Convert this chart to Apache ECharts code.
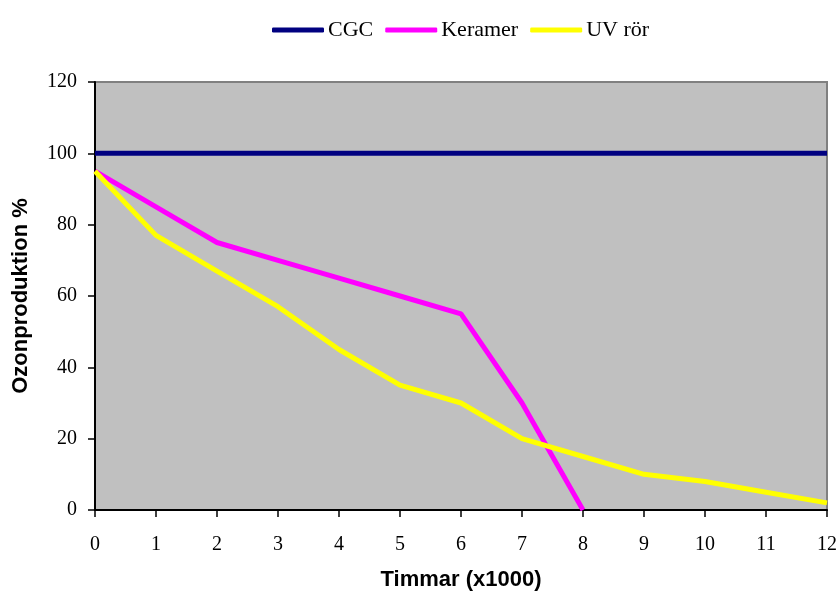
<!DOCTYPE html>
<html>
<head>
<meta charset="utf-8">
<script src="https://cdn.jsdelivr.net/npm/echarts@6/dist/echarts.min.js"></script>
<style>html,body{margin:0;padding:0;background:#fff}#c{width:840px;height:596px}</style>
</head>
<body>
<div id="c"></div>
<script>
const hours = [0,1,2,3,4,5,6,7,8,9,10,11,12];
const cgc = [100,100,100,100,100,100,100,100,100,100,100,100,100];
const keramer = [95,85,75,70,65,60,55,30,0];
const uvRor = [95,77,67,57,45,35,30,20,15,10,8,5,2];
const seriesNames = ['CGC','Keramer','UV rör'];

function pairs(vals){ return vals.map((v,i)=>[hours[i], v]); }

const chart = echarts.init(document.getElementById('c'));
const serif = 'Liberation Serif, Times New Roman, serif';
const sans = 'Liberation Sans, Arial, sans-serif';
chart.setOption({
  animation:false,
  backgroundColor:'#ffffff',
  legend:{
    left:267, top:14, itemWidth:52, itemHeight:5, itemGap:12, icon:'roundRect',
    textStyle:{fontFamily:serif, fontSize:22, color:'#000', padding:[0,0,0,-1]},
    data:seriesNames
  },
  grid:{left:95, top:82, right:12, bottom:84, show:true, backgroundColor:'#c0c0c0', borderColor:'#808080', borderWidth:2},
  xAxis:{
    type:'value', min:0, max:12, interval:1,
    name:'Timmar (x1000)', nameLocation:'middle', nameGap:59,
    nameTextStyle:{fontFamily:sans, fontWeight:'bold', fontSize:22, color:'#000'},
    axisLine:{show:true, lineStyle:{color:'#000', width:2}},
    axisTick:{show:true, length:7, lineStyle:{color:'#000', width:1.5}},
    axisLabel:{margin:25, fontFamily:serif, fontSize:20, color:'#000'},
    splitLine:{show:false}
  },
  yAxis:{
    type:'value', min:0, max:120, interval:20,
    name:'Ozonproduktion %', nameLocation:'middle', nameGap:63, nameRotate:90,
    nameTextStyle:{fontFamily:sans, fontWeight:'bold', fontSize:22, color:'#000'},
    axisLine:{show:true, lineStyle:{color:'#000', width:2}},
    axisTick:{show:true, length:7, lineStyle:{color:'#000', width:1.5}},
    axisLabel:{margin:18, fontFamily:serif, fontSize:20, color:'#000'},
    splitLine:{show:false}
  },
  series:[
    {name:seriesNames[0], type:'line', data:pairs(cgc), symbol:'none', lineStyle:{color:'#000080', width:5}, itemStyle:{color:'#000080'}},
    {name:seriesNames[1], type:'line', data:pairs(keramer), symbol:'none', lineStyle:{color:'#ff00ff', width:5}, itemStyle:{color:'#ff00ff'}},
    {name:seriesNames[2], type:'line', data:pairs(uvRor), symbol:'none', lineStyle:{color:'#ffff00', width:5}, itemStyle:{color:'#ffff00'}}
  ]
});
</script>
</body>
</html>
